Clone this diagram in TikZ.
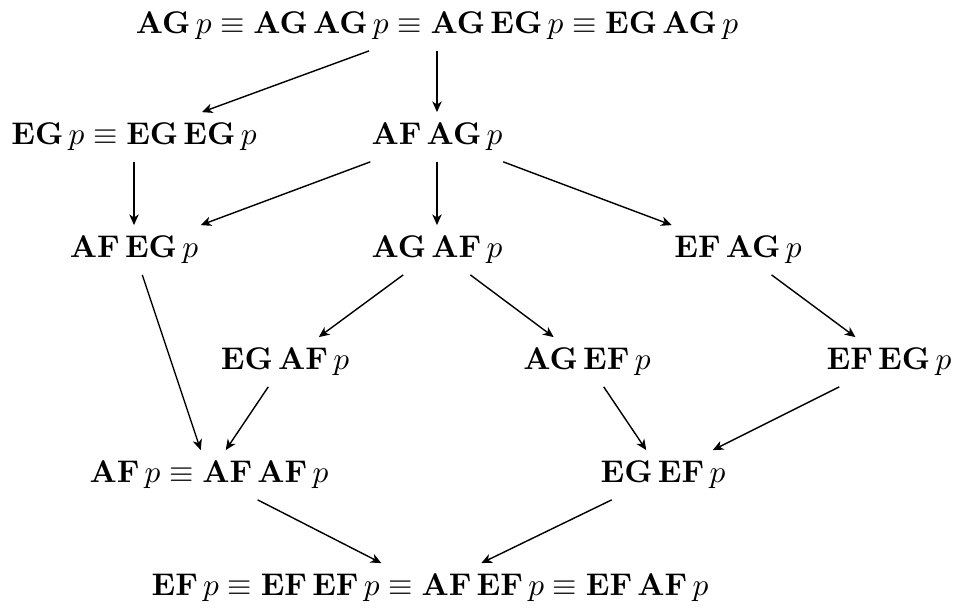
\documentclass[tikz,border=0pt]{standalone}
\usepackage{amsmath}
\usetikzlibrary{arrows.meta}
\tikzset{
  ent/.style={font=\normalsize},
  arr/.style={-{Stealth[length=3.4pt, width=3pt, inset=1pt]}, line width=0.45pt}
}
\newcommand{\op}[1]{\mathbf{#1}}
\begin{document}
\begin{tikzpicture}[x=0.319pt, y=-0.319pt]
\useasboundingbox (0,0) rectangle (955,610);
\node[ent] (top) at (437,26) {$\op{AG}\,p \equiv \op{AG}\,\op{AG}\,p \equiv \op{AG}\,\op{EG}\,p \equiv \op{EG}\,\op{AG}\,p$};
\node[ent] (egp) at (134,137) {$\op{EG}\,p \equiv \op{EG}\,\op{EG}\,p$};
\node[ent] (afag) at (437,137) {$\op{AF}\,\op{AG}\,p$};
\node[ent] (afeg) at (134,250) {$\op{AF}\,\op{EG}\,p$};
\node[ent] (agaf) at (437,250) {$\op{AG}\,\op{AF}\,p$};
\node[ent] (efag) at (738,250) {$\op{EF}\,\op{AG}\,p$};
\node[ent] (egaf) at (285,362) {$\op{EG}\,\op{AF}\,p$};
\node[ent] (agef) at (587,362) {$\op{AG}\,\op{EF}\,p$};
\node[ent] (efeg) at (889,362) {$\op{EF}\,\op{EG}\,p$};
\node[ent] (afp) at (209,475) {$\op{AF}\,p \equiv \op{AF}\,\op{AF}\,p$};
\node[ent] (egef) at (663,475) {$\op{EG}\,\op{EF}\,p$};
\node[ent] (bot) at (430,588) {$\op{EF}\,p \equiv \op{EF}\,\op{EF}\,p \equiv \op{AF}\,\op{EF}\,p \equiv \op{EF}\,\op{AF}\,p$};
\draw[arr] (top) -- (egp);
\draw[arr] (top) -- (afag);
\draw[arr] (egp) -- (afeg);
\draw[arr] (afag) -- (afeg);
\draw[arr] (afag) -- (agaf);
\draw[arr] (afag) -- (efag);
\draw[arr] (agaf) -- (egaf);
\draw[arr] (agaf) -- (agef);
\draw[arr] (efag) -- (efeg);
\draw[arr] (afeg) -- (afp);
\draw[arr] (egaf) -- (afp);
\draw[arr] (agef) -- (egef);
\draw[arr] (efeg) -- (egef);
\draw[arr] (afp) -- (bot);
\draw[arr] (egef) -- (bot);
\end{tikzpicture}
\end{document}
